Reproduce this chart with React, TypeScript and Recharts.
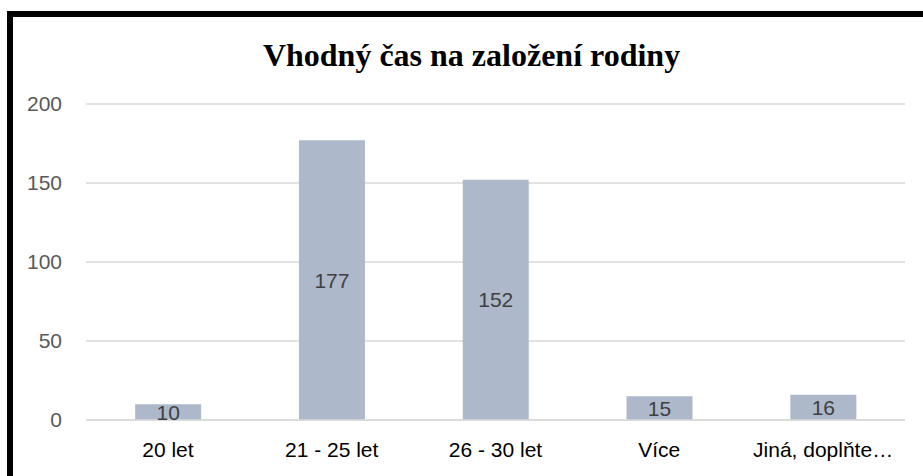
import { BarChart, Bar, XAxis, YAxis, CartesianGrid, LabelList } from 'recharts';

const categories = ["20 let", "21 - 25 let", "26 - 30 let", "Více", "Jiná, doplňte…"]
const counts = [10, 177, 152, 15, 16]
const yTicks = [0, 50, 100, 150, 200]

const data = categories.map((name, i) => ({ name, count: counts[i] }))

const FONT = '"Liberation Sans", Arial, sans-serif'

function App() {
  return (
    <div style={{ position: 'absolute', left: 0, top: 0, width: 923, height: 476, background: '#fff', overflow: 'hidden' }}>
      <div style={{
        position: 'absolute', left: 7, top: 11, right: 0, bottom: 0,
        borderLeft: '6px solid #000', borderTop: '6px solid #000'
      }} />
      <div style={{
        position: 'absolute', left: 0, top: 39, width: 943, textAlign: 'center',
        fontFamily: '"Liberation Serif", "Times New Roman", serif', fontWeight: 'bold',
        fontSize: 32, lineHeight: '32px', color: '#000'
      }}>
        Vhodný čas na založení rodiny
      </div>
      <div style={{ position: 'absolute', left: 0, top: 0 }}>
        <BarChart
          width={923}
          height={476}
          data={data}
          margin={{ top: 104, right: 18, bottom: 26, left: 0 }}
          barCategoryGap="30%"
        >
          <CartesianGrid vertical={false} stroke="#d9d9d9" strokeWidth={1.5} />
          <XAxis
            dataKey="name"
            height={30}
            axisLine={{ stroke: '#d9d9d9', strokeWidth: 1.5 }}
            tickLine={false}
            tickSize={6}
            tickMargin={16}
            interval={0}
            tick={{ fill: '#000', fontSize: 21, fontFamily: FONT }}
          />
          <YAxis
            width={86}
            domain={[0, 200]}
            ticks={yTicks}
            axisLine={false}
            tickLine={false}
            tickSize={6}
            tickMargin={18}
            tick={{ fill: '#595959', fontSize: 21, fontFamily: FONT }}
          />
          <Bar dataKey="count" fill="#adb9ca" isAnimationActive={false}>
            <LabelList
              dataKey="count"
              position="center"
              fill="#404040"
              style={{ fontSize: 21, fontFamily: FONT }}
            />
          </Bar>
        </BarChart>
      </div>
    </div>
  )
}

export default App
